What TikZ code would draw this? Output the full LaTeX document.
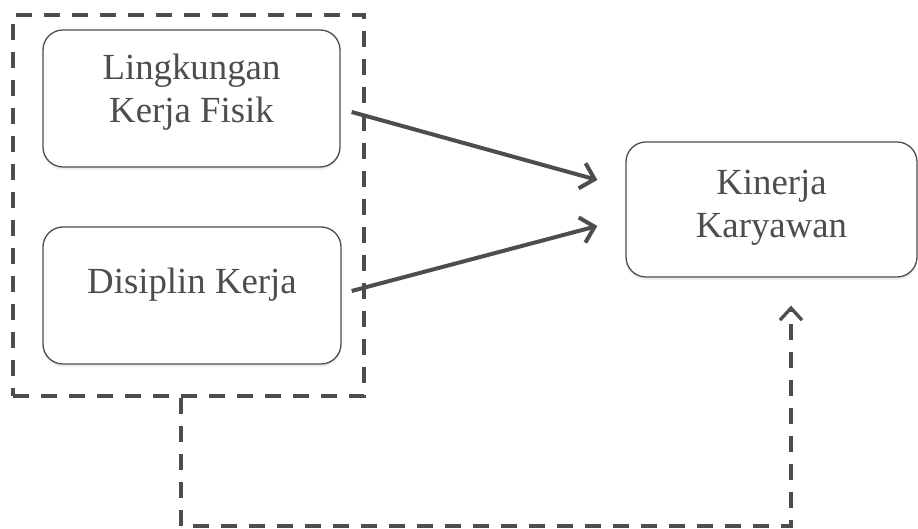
\documentclass[tikz,border=0pt]{standalone}
\usepackage{fontspec}
\setmainfont{Liberation Serif}
\usepackage{tikz}
\usetikzlibrary{arrows.meta,shadows}
\definecolor{ink}{HTML}{4D4D4D}

\begin{document}
\begin{tikzpicture}[x=1pt, y=1pt,
    varbox/.style={draw=ink, line width=1.3pt, rounded corners=20pt, fill=white,
        align=center, text=ink, font=\fontsize{36.8}{43}\selectfont,
        drop shadow={shadow xshift=0pt, shadow yshift=-3pt, opacity=0.12}},
    groupbox/.style={draw=ink, line width=3.5pt, dash pattern=on 16pt off 12pt},
    effect/.style={draw=ink, line width=4pt, -{Straight Barb[length=13pt,width=26pt]}},
    feedback/.style={draw=ink, line width=3.3pt, dash pattern=on 16pt off 12pt,
        -{Straight Barb[length=12pt,width=22pt]}}]
    % \draw[help lines] (0,0) grid[step=50] (918,529);
    \useasboundingbox (0,0) rectangle (918,529);
    \node[varbox, minimum width=297pt, minimum height=137pt, text depth=20pt] (lkf) at (191.5,430.5) {Lingkungan\\Kerja Fisik};
    \node[varbox, minimum width=298pt, minimum height=137pt, text depth=30pt] (dk) at (192,233.5) {Disiplin Kerja};
    \node[varbox, minimum width=291pt, minimum height=135pt, text depth=12pt] (kk) at (771.5,319.5) {Kinerja\\Karyawan};
    \node[groupbox, minimum width=351pt, minimum height=381pt, inner sep=0pt] (grp) at (188.5,323.5) {};
    \draw[effect] ([xshift=11pt,yshift=-13.5pt]lkf.east) -- ([xshift=-28pt,yshift=29.5pt]kk.west);
    \draw[effect] ([xshift=10pt,yshift=4.5pt]dk.east) -- ([xshift=-28pt,yshift=-16.5pt]kk.west);
    \draw[feedback] ([xshift=-7.5pt]grp.south) |- (791,3) -- ([xshift=19.5pt,yshift=-28pt]kk.south);
\end{tikzpicture}
\end{document}
